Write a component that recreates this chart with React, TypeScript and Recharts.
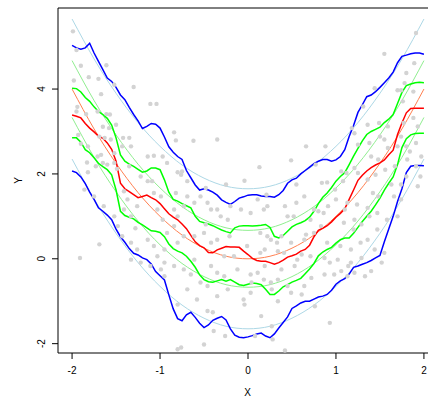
// Quantile curves over a noisy parabola, drawn in the style of an R base plot
import { ComposedChart, Line, XAxis, YAxis, ReferenceArea } from 'recharts';

const xTicks = [-2, -1, 0, 1, 2];
const yTicks = [-2, 0, 2, 4];

// smooth (parametric) quantile fits, sampled every 0.25
const smoothX = [-2, -1.75, -1.5, -1.25, -1, -0.75, -0.5, -0.25, 0, 0.25, 0.5, 0.75, 1, 1.25, 1.5, 1.75, 2];
const smoothQ05 = [2.35, 1.41, 0.6, -0.09, -0.65, -1.09, -1.4, -1.59, -1.65, -1.59, -1.4, -1.09, -0.65, -0.09, 0.6, 1.41, 2.35];
const smoothQ25 = [3.33, 2.39, 1.58, 0.89, 0.33, -0.11, -0.42, -0.61, -0.67, -0.61, -0.42, -0.11, 0.33, 0.89, 1.58, 2.39, 3.33];
const smoothQ50 = [4.0, 3.06, 2.25, 1.56, 1.0, 0.56, 0.25, 0.06, 0.0, 0.06, 0.25, 0.56, 1.0, 1.56, 2.25, 3.06, 4.0];
const smoothQ75 = [4.67, 3.73, 2.92, 2.23, 1.67, 1.23, 0.92, 0.73, 0.67, 0.73, 0.92, 1.23, 1.67, 2.23, 2.92, 3.73, 4.67];
const smoothQ95 = [5.65, 4.71, 3.9, 3.21, 2.65, 2.21, 1.9, 1.71, 1.65, 1.71, 1.9, 2.21, 2.65, 3.21, 3.9, 4.71, 5.65];

// local (wiggly) quantile estimates, read every 0.05
const localX = [
  -2, -1.95, -1.9, -1.85, -1.8, -1.75, -1.7, -1.65, -1.6, -1.55,
  -1.5, -1.45, -1.4, -1.35, -1.3, -1.25, -1.2, -1.15, -1.1, -1.05,
  -1, -0.95, -0.9, -0.85, -0.8, -0.75, -0.7, -0.65, -0.6, -0.55,
  -0.5, -0.45, -0.4, -0.35, -0.3, -0.25, -0.2, -0.15, -0.1, -0.05,
  0, 0.05, 0.1, 0.15, 0.2, 0.25, 0.3, 0.35, 0.4, 0.45,
  0.5, 0.55, 0.6, 0.65, 0.7, 0.75, 0.8, 0.85, 0.9, 0.95,
  1, 1.05, 1.1, 1.15, 1.2, 1.25, 1.3, 1.35, 1.4, 1.45,
  1.5, 1.55, 1.6, 1.65, 1.7, 1.75, 1.8, 1.85, 1.9, 1.95,
  2,
];
const localQ05 = [
  2.07, 2.03, 1.93, 1.77, 1.57, 1.4, 1.2, 1.12, 1.03, 0.92,
  0.7, 0.52, 0.39, 0.24, 0.13, 0.09, 0.02, -0.02, -0.12, -0.3,
  -0.4, -0.5, -0.85, -1.18, -1.41, -1.46, -1.32, -1.26, -1.38, -1.52,
  -1.62, -1.56, -1.45, -1.4, -1.36, -1.44, -1.65, -1.8, -1.85, -1.86,
  -1.84, -1.81, -1.77, -1.75, -1.82, -1.86, -1.77, -1.63, -1.5, -1.37,
  -1.17, -1.11, -1.04, -1.0, -1.0, -0.95, -0.9, -0.88, -0.84, -0.74,
  -0.6, -0.52, -0.47, -0.36, -0.2, -0.17, -0.13, -0.09, -0.04, 0.02,
  0.08, 0.4, 0.7, 1.0, 1.35, 1.65, 2.03, 2.18, 2.2, 2.2,
  2.19,
];
const localQ25 = [
  2.85, 2.85, 2.75, 2.57, 2.5, 2.38, 2.25, 2.17, 2.1, 1.98,
  1.62, 1.12, 1.02, 0.98, 0.94, 0.86, 0.8, 0.73, 0.66, 0.65,
  0.62, 0.52, 0.35, 0.24, 0.18, 0.14, 0.06, -0.06, -0.2, -0.38,
  -0.49, -0.54, -0.55, -0.52, -0.49, -0.53, -0.49, -0.55, -0.61, -0.63,
  -0.6, -0.57, -0.58, -0.61, -0.72, -0.84, -0.84, -0.76, -0.66, -0.61,
  -0.55, -0.51, -0.46, -0.35, -0.24, -0.11, 0.07, 0.16, 0.22, 0.27,
  0.37, 0.45, 0.49, 0.49, 0.6, 0.74, 0.88, 1.0, 1.12, 1.27,
  1.43, 1.62, 1.78, 1.93, 2.22, 2.62, 2.83, 2.92, 2.95, 2.96,
  2.96,
];
const localQ50 = [
  3.39, 3.36, 3.32, 3.19, 3.08, 2.99, 2.89, 2.84, 2.73, 2.58,
  2.3, 1.78, 1.65, 1.58, 1.51, 1.44, 1.47, 1.5, 1.44, 1.39,
  1.3, 1.18, 1.06, 0.98, 0.92, 0.82, 0.71, 0.55, 0.4, 0.31,
  0.26, 0.15, 0.14, 0.21, 0.25, 0.29, 0.28, 0.28, 0.27, 0.18,
  0.1, 0.01, -0.04, -0.06, -0.06, -0.09, -0.13, -0.09, -0.03, 0.04,
  0.07, 0.11, 0.18, 0.22, 0.32, 0.52, 0.67, 0.72, 0.78, 0.87,
  0.98, 1.07, 1.18, 1.4, 1.62, 1.85, 1.97, 2.07, 2.15, 2.21,
  2.26, 2.33, 2.45, 2.56, 2.93, 3.2, 3.44, 3.54, 3.55, 3.55,
  3.55,
];
const localQ75 = [
  4.02, 4.01, 3.93, 3.8, 3.71, 3.58, 3.47, 3.4, 3.31, 3.15,
  2.85, 2.45, 2.3, 2.23, 2.18, 2.11, 2.04, 2.07, 2.14, 2.14,
  2.1, 1.86, 1.57, 1.4, 1.36, 1.3, 1.25, 1.2, 1.0, 0.88,
  0.85, 0.82, 0.78, 0.73, 0.68, 0.64, 0.61, 0.73, 0.77, 0.78,
  0.78, 0.77, 0.78, 0.79, 0.81, 0.74, 0.53, 0.49, 0.55, 0.65,
  0.75, 0.81, 0.85, 0.9, 0.98, 1.12, 1.3, 1.45, 1.55, 1.68,
  1.83, 1.94, 2.03, 2.22, 2.42, 2.6, 2.78, 2.93, 3.0, 3.05,
  3.1, 3.21, 3.29, 3.4, 3.66, 3.92, 4.08, 4.12, 4.15, 4.16,
  4.15,
];
const localQ95 = [
  5.03, 4.97, 4.94, 4.97, 5.08, 4.85, 4.65, 4.46, 4.26, 4.18,
  4.04, 3.86, 3.75, 3.57, 3.4, 3.25, 3.07, 3.12, 3.19, 3.17,
  3.08, 2.87, 2.64, 2.51, 2.41, 2.34, 2.08, 1.91, 1.74, 1.62,
  1.65, 1.62, 1.57, 1.5, 1.39, 1.33, 1.28, 1.35, 1.43, 1.46,
  1.5, 1.51, 1.51, 1.48, 1.47, 1.47, 1.45, 1.51, 1.61, 1.78,
  1.86, 1.9, 2.0, 2.08, 2.16, 2.24, 2.3, 2.34, 2.34, 2.3,
  2.33, 2.41, 2.57, 2.88, 3.14, 3.45, 3.63, 3.82, 3.86, 3.94,
  4.04, 4.15, 4.26, 4.4, 4.62, 4.77, 4.8, 4.83, 4.85, 4.85,
  4.82,
];

// observations [x, y]
const cloud: [number, number][] = [
  [-1.99, 5.36], [-1.95, 4.92], [-1.9, 4.55], [-1.98, 4.2], [-1.81, 4.28], [-1.7, 4.24], [-1.61, 4.56], [-1.67, 3.88],
  [-1.52, 4.1], [-1.3, 4.05], [-1.11, 3.65], [-1.04, 3.65], [-1.94, 3.58], [-1.95, 3.47], [-1.84, 3.41], [-1.71, 3.47],
  [-1.61, 3.41], [-1.57, 3.4], [-1.5, 3.16], [-1.65, 3.11], [-1.58, 3.08], [-1.69, 2.88], [-1.63, 2.85], [-1.93, 2.92],
  [-1.9, 2.71], [-1.82, 2.65], [-1.71, 2.41], [-1.67, 2.45], [-1.83, 2.27], [-1.82, 2.04], [-1.73, 2.18], [-1.65, 2.26],
  [-1.6, 2.22], [-1.52, 2.26], [-1.49, 2.12], [-1.42, 2.85], [-1.35, 2.85], [-1.33, 2.65], [-1.14, 2.41], [-1.07, 2.43],
  [-0.84, 2.98], [-0.82, 2.79], [-0.62, 2.78], [-0.92, 2.26], [-0.8, 2.04], [-0.75, 2.06], [-0.69, 1.83], [-1.14, 1.83],
  [-1.09, 1.83], [-1.35, 2.18], [-1.22, 1.94], [-1.07, 1.55], [-0.99, 1.47], [-0.82, 1.55], [-1.75, 1.47], [-1.86, 1.63],
  [-1.41, 1.59], [-0.48, 1.67],
  [1.91, 5.32], [1.55, 4.83], [1.89, 4.61], [1.8, 4.38], [1.78, 4.14], [1.7, 3.97], [1.74, 3.97], [1.88, 3.94],
  [1.44, 4.02], [1.31, 3.59], [1.36, 3.16], [1.49, 3.2], [1.59, 3.12], [1.76, 3.71], [1.88, 3.32], [1.93, 3.12],
  [1.18, 3.08], [1.21, 2.96], [1.25, 2.69], [1.38, 2.73], [1.5, 2.88], [1.55, 2.81], [1.59, 2.61], [1.74, 2.88],
  [1.8, 2.65], [1.84, 2.53], [1.91, 2.73], [1.97, 2.41], [-0.35, 2.81], [0.66, 2.65], [0.88, 2.65], [0.49, 2.32],
  [0.13, 2.16], [-0.04, 1.84], [-0.25, 1.75], [0.21, 1.51], [0.55, 1.75], [1.06, 2.06], [1.12, 2.02], [1.25, 2.02],
  [1.21, 2.14], [1.4, 2.41], [1.48, 2.34], [1.67, 2.18], [1.63, 1.75], [1.74, 1.75], [1.8, 1.94], [1.91, 2.18],
  [0.99, 1.63], [1.08, 1.83], [0.84, 1.79], [0.9, 1.8], [1.42, 1.55], [1.48, 1.47],
  [1.77, 3.2], [0.77, 2.22], [1.36, 1.87], [1.45, 1.98], [1.56, 2.1], [1.81, 2.34], [1.96, 1.94], [1.66, 1.47],
  [1.74, 1.4], [1.93, 1.71], [0.64, 1.47], [1.7, 2.65],
  [0.75, 1.16], [0.86, 1.08], [1.0, 1.4], [1.13, 1.32], [1.24, 1.28], [1.36, 1.2], [1.47, 1.08], [1.58, 0.92],
  [1.7, 1.0], [0.18, 1.16], [0.45, 1.0], [0.52, 1.0], [0.71, 0.92], [0.83, 0.77], [1.09, 0.85], [1.2, 0.69],
  [1.47, 0.69], [0.14, 0.61], [0.33, 0.38], [0.49, 0.38], [0.64, 0.45], [0.75, 0.61], [0.9, 0.38], [1.05, 0.3],
  [1.17, 0.22], [1.28, 0.38], [1.36, 0.45], [0.41, 0.14], [0.56, -0.02], [0.71, 0.06], [1.02, -0.02], [1.17, -0.09],
  [0.98, -0.37], [1.13, -0.41], [0.26, -0.56], [0.45, -0.64], [0.64, -0.64],
  [0.42, 1.24], [0.55, 1.32], [0.8, 1.12], [0.91, 1.24], [1.1, 1.16], [1.21, 0.92], [1.29, 0.81], [1.38, 1.0],
  [-0.21, 0.53], [0.34, 0.18], [0.61, 0.1], [0.38, 0.53], [0.66, 0.57], [0.87, 0.02], [0.93, -0.09], [1.06, -0.29],
  [1.21, -0.33], [1.29, 0.02], [1.44, 0.22], [1.55, 0.14], [1.52, -0.09], [1.4, -0.29], [1.33, -0.41], [0.19, -0.17],
  [0.38, -0.25], [0.53, -0.17], [0.72, -0.45], [0.87, -0.37], [-0.04, -1.08], [0.15, -1.35], [0.34, -1.0], [0.49, -0.8],
  [0.61, -0.84], [0.76, -1.12], [0.93, -1.51], [-0.26, -1.82], [0.08, -1.82], [0.28, -1.9], [0.42, -2.16], [0.04, -0.56],
  [0.27, -0.72], [0.34, -0.49], [1.14, -0.17], [0.27, -1.59], [0.19, 0.22],
  [-1.56, 2.81], [-1.52, 2.49], [-1.43, 2.65], [-0.97, 2.41], [-0.76, 1.98], [-1.37, 1.4], [-1.26, 1.24], [-1.41, 1.16],
  [-1.52, 1.0], [-1.48, 0.77], [-1.33, 1.0], [-1.03, 1.16], [-0.97, 0.92], [-0.84, 1.16], [-0.8, 1.0], [-0.73, 1.24],
  [-0.69, 1.47], [-0.61, 1.32], [-0.54, 1.47], [-0.46, 1.32], [-0.42, 1.16], [-0.35, 1.16], [-0.31, 1.0], [-0.23, 0.92],
  [-0.2, 1.24], [-0.08, 1.16], [0.03, 1.08], [0.11, 1.4], [0.22, 1.24], [-1.43, 0.53], [-1.33, 0.38], [-1.26, 0.22],
  [-1.14, 0.45], [-1.07, 0.3], [-0.95, 0.22], [-0.92, 0.61], [-0.8, 0.38], [-0.73, 0.53], [-0.61, 0.53], [-0.5, 0.61],
  [-0.42, 0.38], [-0.35, 0.45], [-0.27, 0.06], [-0.16, 0.06], [-0.01, 0.3], [0.14, 0.14], [0.22, 0.53], [0.26, 0.45],
  [-1.33, -0.02], [-1.22, -0.09], [-1.11, -0.17], [-1.03, 0.06], [-0.95, -0.09], [-0.84, -0.17], [-0.73, -0.25], [-0.65, -0.37],
  [-0.42, -0.17], [-0.35, -0.33], [-0.27, -0.41], [-0.12, -0.25], [0.03, -0.37], [0.11, -0.33], [0.18, -0.49], [-0.95, -0.41],
  [-0.69, -0.72], [-0.58, -0.96], [-0.35, -0.88], [-0.23, -0.72], [-0.05, -0.96], [0.03, -0.8],
  [-1.64, 1.24], [-1.69, 0.34], [-1.91, 0.02], [-1.28, 0.72], [-0.84, 0.77], [-0.48, 0.81], [-0.99, -0.25], [-0.8, -1.08],
  [-0.46, -1.23], [-0.4, -1.26], [-0.76, -2.09], [-0.8, -2.13], [-0.5, -2.02], [-0.54, -0.56], [-0.46, -0.64], [-0.61, -0.02],
  [-0.39, -1.7],
];

const toSeries = (xs: number[], ys: number[]) => xs.map((x, i) => ({ x, y: ys[i] }));
const points = cloud.map(([x, y]) => ({ x, y }));

const font = 'Liberation Sans, Arial, Helvetica, sans-serif';

const XTick = ({ x, payload }: any) => (
  <text x={x} y={374} textAnchor="middle" fontSize={10} fontFamily={font} fill="#000">
    {payload.value}
  </text>
);

const YTick = ({ y, payload }: any) => (
  <text x={45.3} y={y} transform={`rotate(-90 45.3 ${y})`} textAnchor="middle" fontSize={10} fontFamily={font} fill="#000">
    {payload.value}
  </text>
);

// grey observation dots; drawn via a stroke-less Line so they sit under the curves
const Dot = ({ cx, cy, index }: any) => <circle key={index} cx={cx} cy={cy} r={2.2} fill="#D3D3D3" />;

const smooth = [
  { ys: smoothQ95, color: '#ADD8E6' },
  { ys: smoothQ75, color: '#90EE90' },
  { ys: smoothQ50, color: '#FF7F50' },
  { ys: smoothQ25, color: '#90EE90' },
  { ys: smoothQ05, color: '#ADD8E6' },
];

const local = [
  { ys: localQ95, color: '#0000FF' },
  { ys: localQ75, color: '#00FF00' },
  { ys: localQ50, color: '#FF0000' },
  { ys: localQ25, color: '#00FF00' },
  { ys: localQ05, color: '#0000FF' },
];

export default function App() {
  return (
    <div style={{ position: 'absolute', left: 0, top: 0, width: 428, height: 399, overflow: 'hidden', background: '#fff' }}>
      <ComposedChart width={440} height={399} margin={{ top: 8, right: 2, bottom: 0, left: 0 }}>
        <XAxis
          type="number"
          dataKey="x"
          domain={[-2.16, 2.16]}
          allowDataOverflow
          ticks={xTicks}
          interval={0}
          height={46}
          axisLine={false}
          tickSize={6}
          tickLine={{ stroke: '#000' }}
          tick={XTick}
          label={{
            content: () => (
              <text x={247.5} y={396} textAnchor="middle" fontSize={10} fontFamily={font} fill="#000">
                X
              </text>
            ),
          }}
        />
        <YAxis
          type="number"
          dataKey="y"
          domain={[-2.22, 5.91]}
          allowDataOverflow
          ticks={yTicks}
          interval={0}
          width={58}
          axisLine={false}
          tickSize={6}
          tickLine={{ stroke: '#000' }}
          tick={YTick}
          label={{
            content: () => (
              <text x={21.5} y={180.5} transform="rotate(-90 21.5 180.5)" textAnchor="middle" fontSize={10} fontFamily={font} fill="#000">
                Y
              </text>
            ),
          }}
        />
        <Line
          data={points}
          dataKey="y"
          stroke="none"
          dot={Dot}
          activeDot={false}
          isAnimationActive={false}
        />
        {smooth.map((s, i) => (
          <Line
            key={`s${i}`}
            data={toSeries(smoothX, s.ys)}
            dataKey="y"
            type="natural"
            stroke={s.color}
            strokeWidth={1}
            dot={false}
            activeDot={false}
            isAnimationActive={false}
          />
        ))}
        {local.map((s, i) => (
          <Line
            key={`l${i}`}
            data={toSeries(localX, s.ys)}
            dataKey="y"
            type="linear"
            stroke={s.color}
            strokeWidth={1.5}
            dot={false}
            activeDot={false}
            isAnimationActive={false}
          />
        ))}
        <ReferenceArea x1={-2.16} x2={2.16} y1={-2.22} y2={5.91} fill="none" stroke="#000" strokeWidth={1} />
      </ComposedChart>
    </div>
  );
}
